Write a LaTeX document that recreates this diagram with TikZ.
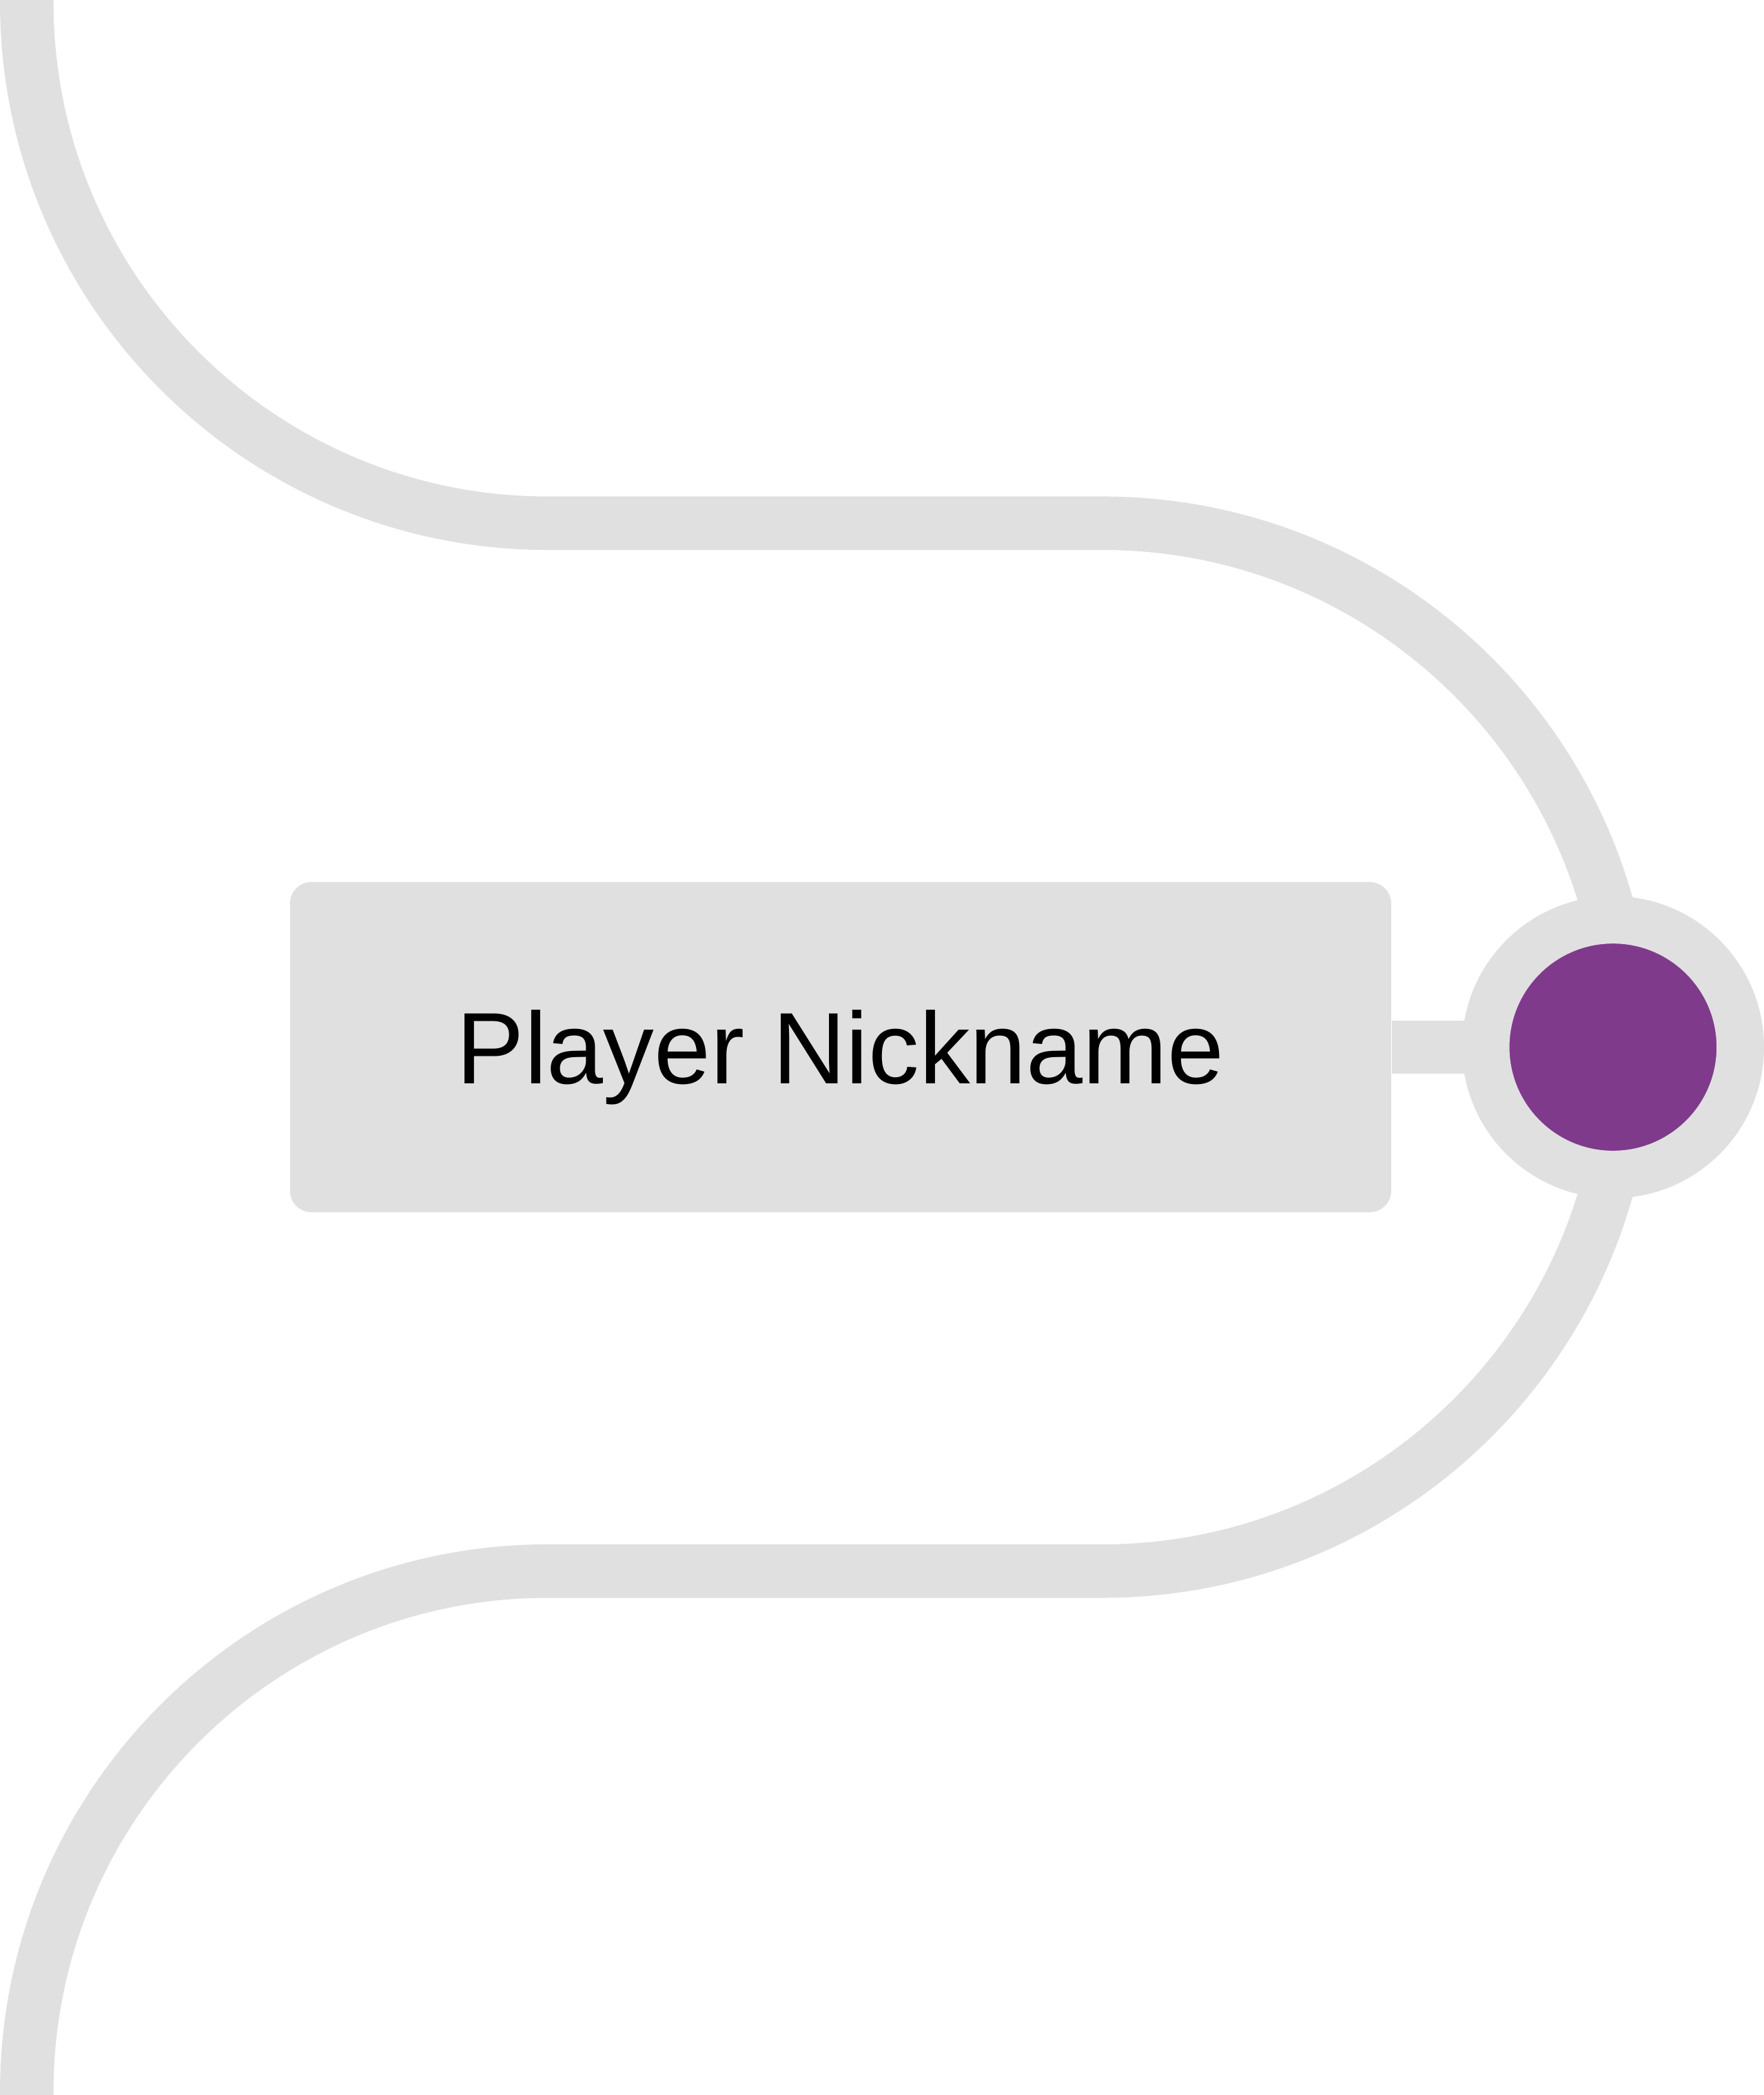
\documentclass[tikz,border=0pt]{standalone}
\usepackage{fontspec}
\setmainfont{Liberation Sans}
\usepackage{tikz}
\usetikzlibrary{positioning, calc}

\definecolor{trackgray}{HTML}{E0E0E0}
\definecolor{dotpurple}{HTML}{7F3A8C}

\begin{document}
\begin{tikzpicture}[x=0.5pt, y=0.5pt,
    track/.style={draw=trackgray, line width=20pt},
    namebox/.style={rectangle, rounded corners=8pt, fill=trackgray, minimum width=412pt, minimum height=123.5pt, text height=27.2pt, text depth=0pt, font=\fontsize{38}{45}\selectfont},
    stop/.style={circle, fill=dotpurple, draw=trackgray, line width=17.75pt, minimum size=95.25pt, inner sep=0pt}]
\useasboundingbox (0,0) rectangle (1320,1567.5);
\fill[white] (0,0) rectangle (1320,1567.5);

% Track
\coordinate (top) at (20,1600);
\coordinate (bottom) at (20,-40);
\draw[track] (top) -- (20,1566)
  arc[start angle=180, end angle=270, radius=195pt] -- (825,1176)
  arc[start angle=90, end angle=-90, radius=196pt] -- (410,392)
  arc[start angle=90, end angle=180, radius=195pt] -- (bottom);

% Label and stop
\node[namebox] (nick) at (629,784) {Player Nickname};
\coordinate (stopc) at (1207,784);
\draw[track] (nick.east) -- (stopc);
\node[stop] (dot) at (stopc) {};
\end{tikzpicture}
\end{document}
